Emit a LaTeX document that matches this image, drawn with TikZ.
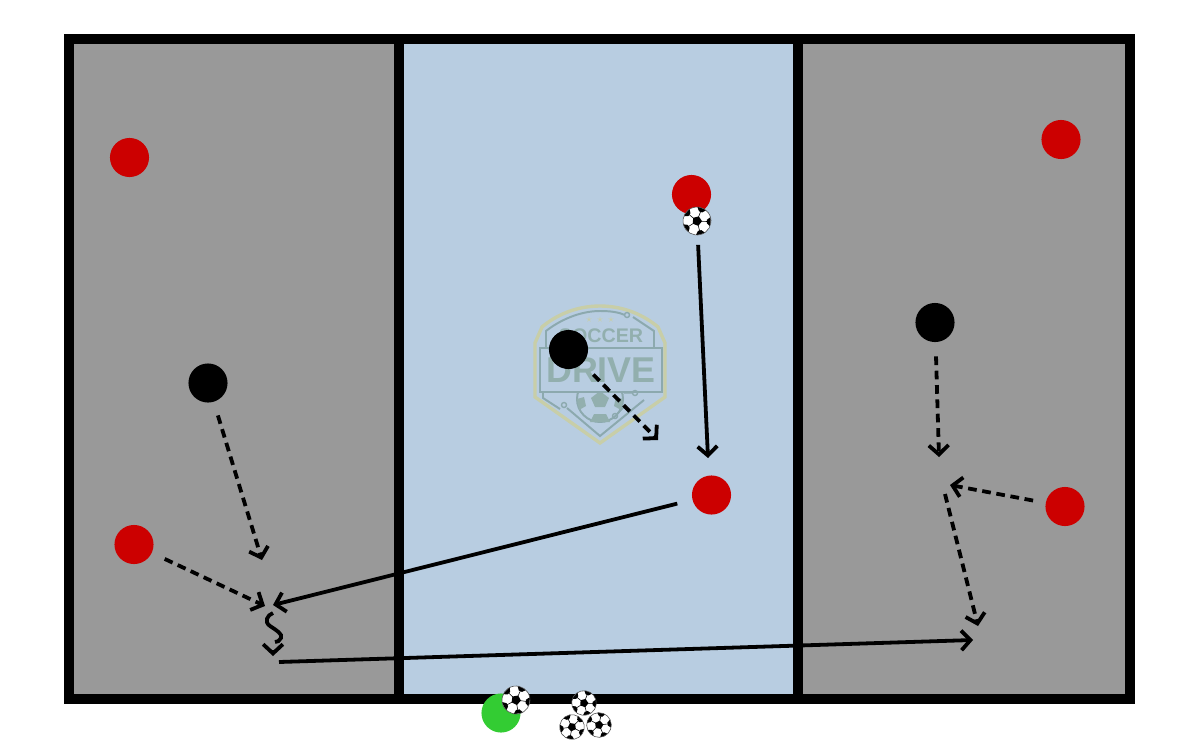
\documentclass[tikz,border=0pt]{standalone}
\usepackage{fontspec}
\setmainfont{Liberation Sans}
\usepackage{tikz}
\usetikzlibrary{arrows.meta}
\definecolor{zonegray}{HTML}{999999}
\definecolor{zoneblue}{HTML}{B8CDE1}
\definecolor{playerred}{HTML}{CC0000}
\definecolor{playergreen}{HTML}{33CC33}
\definecolor{logoteal}{HTML}{92AFAE}
\definecolor{logoolive}{HTML}{C8CEA8}
\definecolor{logoline}{HTML}{8CA9AE}
\tikzset{
    ball/.pic={
        \begin{scope}
            \clip (0,0) circle (14);
            \fill[white] (0,0) circle (14);
            \foreach \a in {90,162,234,306,18} {
                \draw[black, line width=0.4pt] (\a:4.5) -- (\a:11);
                \fill[black] (\a-20:14.5) -- (\a-10:10) -- (\a+10:10) -- (\a+20:14.5) -- cycle;
            }
            \fill[black] (90:5) -- (162:5) -- (234:5) -- (306:5) -- (18:5) -- cycle;
        \end{scope}
        \draw[black!70, line width=0.4pt] (0,0) circle (14);
    }
}
\begin{document}
\begin{tikzpicture}[
    x=0.025cm, y=-0.025cm,
    redplayer/.style={circle, fill=playerred, minimum size=27.8pt, inner sep=0pt},
    blackplayer/.style={circle, fill=black, minimum size=27.8pt, inner sep=0pt},
    greenplayer/.style={circle, fill=playergreen, minimum size=27.8pt, inner sep=0pt},
    pass/.style={-{Straight Barb[length=6.5pt, width=14pt, line width=2.7pt]}, line width=2.7pt},
    run/.style={-{Straight Barb[length=6.5pt, width=14pt, line width=2.7pt]}, line width=2.7pt, dash pattern=on 6.2pt off 4pt},
    wall/.style={line width=7pt}
]
\useasboundingbox (0,0) rectangle (1200,750);

% Zones
\fill[zonegray] (69,39) rectangle (399,699);
\fill[zoneblue] (399,39) rectangle (798,699);
\fill[zonegray] (798,39) rectangle (1130,699);

% Logo
\draw[logoolive, line width=2.4pt] (600,306) .. controls (575,306) and (555,316) .. (542,327) -- (535,343) -- (535,397) -- (600,443) -- (665,397) -- (665,343) -- (658,327) .. controls (645,316) and (625,306) .. (600,306);
\draw[logoline, line width=1.4pt] (625,315) .. controls (618,312) and (610,311) .. (600,311) .. controls (580,311) and (560,320) .. (546,331) -- (546,348);
\draw[logoline, line width=1.4pt] (633,317) -- (654,331) -- (654,348);
\draw[logoline, line width=1.4pt] (567,408) -- (600,436) -- (644,400);
\draw[logoline, line width=1.4pt] (543,392) -- (543,398) -- (560,409);
\draw[logoline, line width=1.6pt] (540,348) rectangle (662,392);
\draw[logoline, line width=1pt] (627,315) circle (2.5);
\draw[logoline, line width=1pt] (635,393) circle (2.5) (564,405) circle (2.5) (615,416) circle (2.5);
\draw[logoline, line width=1pt] (617,414) -- (626,405) (633,393) -- (624,393);
\begin{scope}
    \clip (570,393) rectangle (630,430);
    \draw[logoline, line width=1.4pt] (600,399) circle (23);
    \fill[logoteal] (600,391) -- (609,398) -- (605,407) -- (595,407) -- (591,398) -- cycle;
    \fill[logoteal] (590,422) -- (610,422) -- (606,414) -- (594,414) -- cycle;
    \fill[logoteal] (577,399) -- (584,397) -- (586,406) -- (579,410) -- cycle;
    \fill[logoteal] (623,399) -- (616,397) -- (614,406) -- (621,410) -- cycle;
\end{scope}
\foreach \sx in {589,600,611} {
    \node[text=logoolive, inner sep=0pt, font=\fontsize{8pt}{8pt}\selectfont] (star\sx) at (\sx,320) {$\star$};
}
\node[text=logoteal, inner sep=0pt, font=\fontsize{14pt}{14pt}\selectfont\bfseries] (soccer) at (601,336) {SOCCER};
\node[text=logoteal, inner sep=0pt, font=\fontsize{25.5pt}{26pt}\selectfont\bfseries] (drive) at (601,370) {DRIVE};

% Frame
\draw[wall] (69,39) rectangle (1130,699);
\draw[line width=6.5pt] (399,39) -- (399,699);
\draw[line width=6.5pt] (798,39) -- (798,699);

% Players
\node[redplayer] (redtopleft) at (129.5,157.5) {};
\node[redplayer] (redtop) at (691.5,194.5) {};
\node[redplayer] (redtopright) at (1061,139.5) {};
\node[redplayer] (redleft) at (134,544.5) {};
\node[redplayer] (redmid) at (711.5,495) {};
\node[redplayer] (redright) at (1065,506.5) {};
\node[blackplayer] (blackleft) at (208,383) {};
\node[blackplayer] (blackmid) at (568.5,349.5) {};
\node[blackplayer] (blackright) at (935,322.5) {};
\node[greenplayer] (coach) at (501,713) {};

% Balls
\coordinate (balltop) at (697,221);
\pic[rotate=15] at (balltop) {ball};
\pic[rotate=10] at (516,700) {ball};
\pic[rotate=15, scale=0.88] at (584,703) {ball};
\pic[rotate=-10, scale=0.88] at (572,727) {ball};
\pic[rotate=25, scale=0.88] at (599,725) {ball};

% Free ends
\coordinate (blackleftend) at (262,560);
\coordinate (redleftend) at (265,606);
\coordinate (passleftend) at (273,605);
\coordinate (squigstart) at (273,613);
\coordinate (squigend) at (275,642);
\coordinate (squigtip) at (273,656);
\coordinate (passlongstart) at (279,662);
\coordinate (passlongend) at (973,640);
\coordinate (passtopend) at (708,458);
\coordinate (blackmidend) at (658,440);
\coordinate (blackrightend) at (939,457);
\coordinate (redrightend) at (950,485);
\coordinate (runrightstart) at (945,494);
\coordinate (runrightend) at (978,626);

% Runs
\draw[run, shorten <=10pt] (blackleft) -- (blackleftend);
\draw[run, shorten <=10pt] (redleft) -- (redleftend);
\draw[run, shorten <=11pt] (blackmid) -- (blackmidend);
\draw[run, shorten <=10pt] (blackright) -- (blackrightend);
\draw[run, shorten <=9pt] (redright) -- (redrightend);
\draw[run] (runrightstart) -- (runrightend);
\draw[line width=2.7pt] (squigstart) .. controls (267,615) and (264,622) .. (270,626) .. controls (276,630) and (283,634) .. (281,638) .. controls (280,641) and (277,642) .. (squigend);
\draw[pass] (273,650) -- (squigtip);

% Passes
\draw[pass, shorten <=11pt] (redmid) -- (passleftend);
\draw[pass] (passlongstart) -- (passlongend);
\draw[pass, shorten <=17pt] (balltop) -- (passtopend);
\end{tikzpicture}
\end{document}
